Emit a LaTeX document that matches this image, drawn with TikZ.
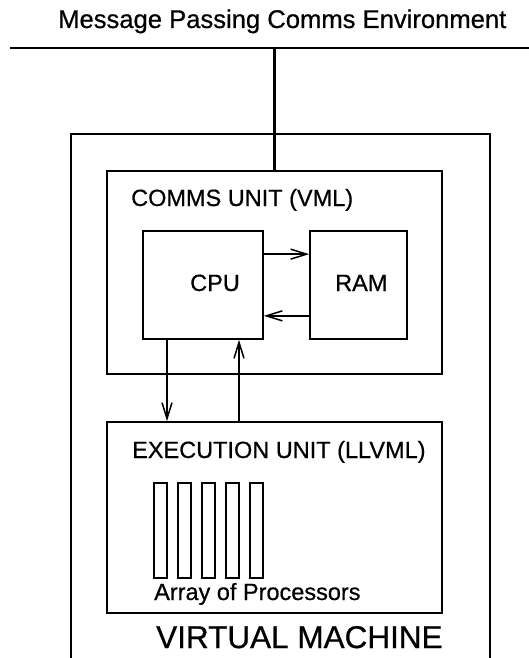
\documentclass[tikz,border=0pt]{standalone}
\usepackage{fontspec}
\setmainfont{Liberation Sans}[FakeBold=0.6,AutoFakeBold=0.6]
\usetikzlibrary{arrows.meta,calc}
\begin{document}
\begin{tikzpicture}[x=1pt,y=-1pt,
  box/.style={draw,line width=1.7pt,minimum width=#1,inner sep=0pt},
  lbl/.style={anchor=base west,inner sep=0pt,font=\fontsize{23.5}{26}\selectfont\bfseries},
  proc/.style={draw,line width=1.5pt,minimum width=13pt,minimum height=95pt,inner sep=0pt},
  conn/.style={line width=1.5pt,-{Straight Barb[length=16pt,width=10pt,line width=1.5pt]}}]
\useasboundingbox (0,0) rectangle (529,658);
% title and bus
\node[anchor=base west,inner sep=0pt,font=\fontsize{25.6}{28}\selectfont\bfseries] (title) at (58,28) {Message Passing Comms Environment};
\coordinate (busL) at (10,48);
\coordinate (busR) at (529,48);
\draw[line width=2.8pt] (busL) -- (busR);
% virtual machine outer box
\coordinate (vmBL) at (71,660);
\coordinate (vmTL) at (71,134);
\coordinate (vmTR) at (490,134);
\coordinate (vmBR) at (490,660);
\draw[line width=1.7pt] (vmBL) -- (vmTL) -- (vmTR) -- (vmBR);
\node[anchor=base west,inner sep=0pt,font=\fontsize{31.5}{34}\selectfont\bfseries] (vm) at (156,648) {VIRTUAL MACHINE};
% comms unit
\node[box=335pt,minimum height=203pt] (cu) at (274.5,272.5) {};
\node[lbl] (cul) at (131,206) {COMMS UNIT (VML)};
\coordinate (busT) at (cu.north |- busL);
\draw[line width=2.8pt] (busT) -- (cu.north);
% CPU and RAM
\node[box=120pt,minimum height=108pt] (cpu) at (203,285) {};
\node[lbl] (cpul) at (190,291) {CPU};
\node[box=97pt,minimum height=108pt] (ram) at (358.5,285) {};
\node[lbl] (raml) at (335,291) {RAM};
\draw[conn] ($(cpu.north east)+(0,24)$) -- ($(ram.north west)+(0,24)$);
\draw[conn] ($(ram.south west)+(0,-24)$) -- ($(cpu.south east)+(0,-24)$);
% execution unit
\node[box=335pt,minimum height=191pt] (eu) at (274.5,517.5) {};
\node[lbl] (eul) at (132,458) {EXECUTION UNIT (LLVML)};
\draw[conn] (cpu.south -| 167,0) -- (eu.north -| 167,0);
\draw[conn] (eu.north -| 239,0) -- (cpu.south -| 239,0);
% processors
\node[proc] (p1) at (160.5,530.5) {};
\node[proc] (p2) at (184.5,530.5) {};
\node[proc] (p3) at (208.5,530.5) {};
\node[proc] (p4) at (232.5,530.5) {};
\node[proc] (p5) at (256.5,530.5) {};
\node[lbl] (arr) at (154,600) {Array of Processors};
\end{tikzpicture}
\end{document}
